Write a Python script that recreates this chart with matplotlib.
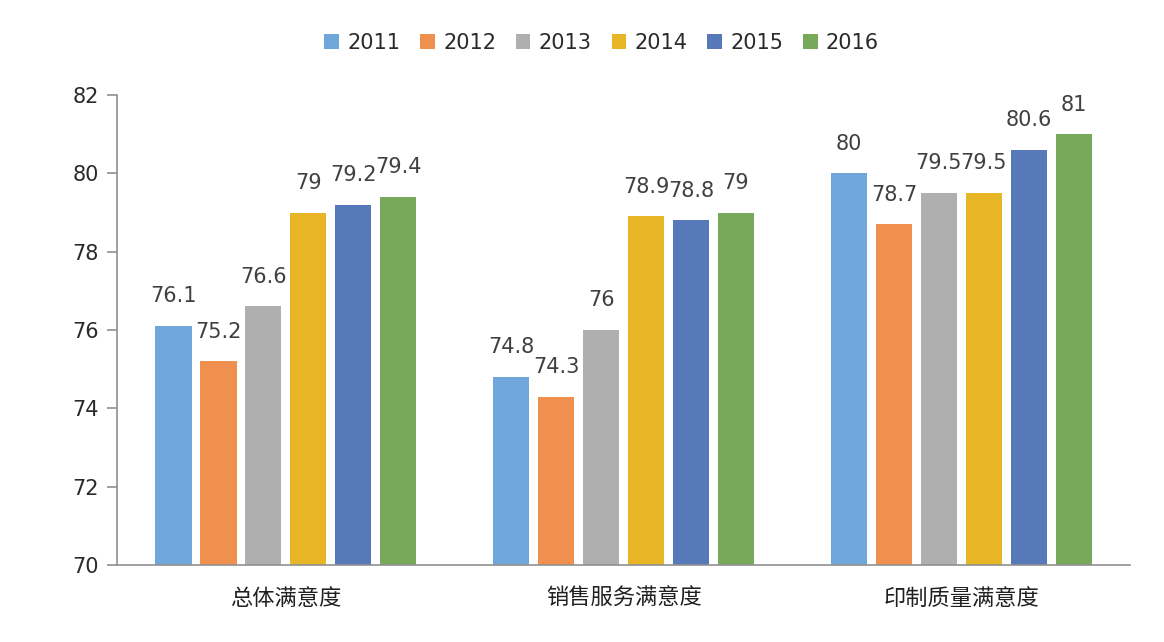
import numpy as np
import matplotlib
matplotlib.use("Agg")
import matplotlib.pyplot as plt

plt.rcParams["font.family"] = ["DejaVu Sans", "Noto Sans CJK SC"]

categories = ["总体满意度", "销售服务满意度", "印制质量满意度"]
years = ["2011", "2012", "2013", "2014", "2015", "2016"]
v2011 = [76.1, 74.8, 80]
v2012 = [75.2, 74.3, 78.7]
v2013 = [76.6, 76, 79.5]
v2014 = [79, 78.9, 79.5]
v2015 = [79.2, 78.8, 80.6]
v2016 = [79.4, 79, 81]
series = [v2011, v2012, v2013, v2014, v2015, v2016]
colors = ["#70A7DA", "#F0904F", "#AFAFAF", "#E7B526", "#5779BA", "#78A85A"]

fig = plt.figure(figsize=(11.64, 6.42), dpi=100)
ax = fig.add_axes([0.1005, 0.12, 0.8705, 0.732])

x = np.arange(len(categories))
pitch = 0.133
width = 0.107
for i, (vals, c, yr) in enumerate(zip(series, colors, years)):
    pos = x + (i - 2.5) * pitch
    bars = ax.bar(pos, vals, width, color=c, label=yr, zorder=2)
    for b, v in zip(bars, vals):
        ax.annotate(f"{v:g}", (b.get_x() + b.get_width() / 2, v),
                    xytext=(0, 17), textcoords="offset points",
                    ha="center", va="baseline", fontsize=15, color="#404040")

ax.set_ylim(70, 82)
ax.set_xlim(-0.5, 2.5)
ax.set_yticks(range(70, 83, 2))
ax.set_xticks(x)
ax.set_xticklabels(categories, fontsize=16, color="#202020",
                   family=["Noto Sans CJK SC", "DejaVu Sans"])
ax.tick_params(axis="y", labelsize=15, labelcolor="#2a2a2a", color="#909090",
               length=7, width=1.2, pad=6)
ax.tick_params(axis="x", length=0, pad=16)
for s in ["top", "right"]:
    ax.spines[s].set_visible(False)
for s in ["left", "bottom"]:
    ax.spines[s].set_color("#909090")
    ax.spines[s].set_linewidth(1.2)

handles, labels = ax.get_legend_handles_labels()
fig.legend(handles, labels, loc="center", bbox_to_anchor=(0.517, 0.933), ncol=6,
           frameon=False, fontsize=15, handlelength=0.7, handleheight=0.7,
           handletextpad=0.4, columnspacing=0.95, labelcolor="#2a2a2a")

fig.savefig("out.png", dpi=100)
